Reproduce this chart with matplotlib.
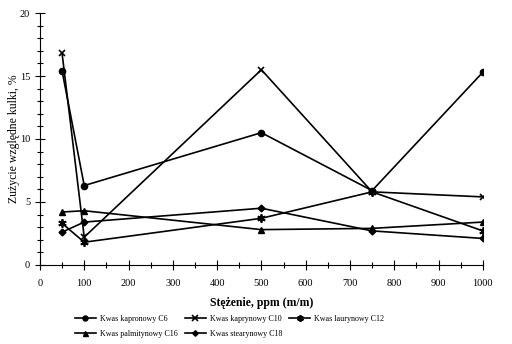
import matplotlib
matplotlib.use('Agg')
import matplotlib.pyplot as plt
from matplotlib.ticker import MultipleLocator

plt.rcParams['font.family'] = ['Liberation Serif', 'DejaVu Serif']

# stężenie, ppm (m/m)
x = [50, 100, 500, 750, 1000]
c6 = [15.4, 6.3, 10.5, 5.9, 15.3]
c10 = [16.8, 2.2, 15.5, 5.8, 5.4]
c12 = [3.3, 1.8, 3.7, 5.8, 2.7]
c16 = [4.2, 4.3, 2.8, 2.9, 3.4]
c18 = [2.6, 3.4, 4.5, 2.7, 2.1]
nazwy = ['Kwas kapronowy C6', 'Kwas kaprynowy C10', 'Kwas laurynowy C12',
         'Kwas palmitynowy C16', 'Kwas stearynowy C18']

fig = plt.figure(figsize=(5.12, 3.44), dpi=100)
ax = fig.add_axes([0.078, 0.230, 0.865, 0.732])

l1, = ax.plot(x, c6, color='black', lw=1.2, marker='o', ms=4.5, label=nazwy[0])
l2, = ax.plot(x, c10, color='black', lw=1.2, marker='x', ms=5, mew=1.2, label=nazwy[1])
l3, = ax.plot(x, c12, color='black', lw=1.2, marker=(6, 2, 0), ms=6, mew=1.3, label=nazwy[2])
l4, = ax.plot(x, c16, color='black', lw=1.2, marker='^', ms=4.5, label=nazwy[3])
l5, = ax.plot(x, c18, color='black', lw=1.2, marker='D', ms=3.5, label=nazwy[4])

ax.set_xlim(0, 1000)
ax.set_ylim(0, 20)
ax.xaxis.set_major_locator(MultipleLocator(100))
ax.xaxis.set_minor_locator(MultipleLocator(50))
ax.yaxis.set_major_locator(MultipleLocator(5))
ax.yaxis.set_minor_locator(MultipleLocator(1))
ax.tick_params(which='both', direction='inout', width=0.8, labelsize=7.5)
ax.tick_params(which='major', length=7)
ax.tick_params(which='minor', length=5)
ax.tick_params(axis='x', pad=7)
ax.spines['top'].set_visible(False)
ax.spines['right'].set_visible(False)

ax.set_xlabel('Stężenie, ppm (m/m)', fontsize=8.5, fontweight='bold', labelpad=6)
ax.set_ylabel('Zużycie względne kulki, %', fontsize=8.5, labelpad=0)

# kolejność wierszami: C6 C10 C12 / C16 C18
fig.legend([l1, l4, l2, l5, l3], [nazwy[0], nazwy[3], nazwy[1], nazwy[4], nazwy[2]],
           loc='upper left', bbox_to_anchor=(0.146, 0.085), ncol=3, frameon=False,
           fontsize=5.8, handlelength=2.6, columnspacing=0.9, labelspacing=0.9,
           handletextpad=0.5, borderaxespad=0.0, borderpad=0.0, markerscale=0.8)

fig.savefig('out.png', dpi=100)
